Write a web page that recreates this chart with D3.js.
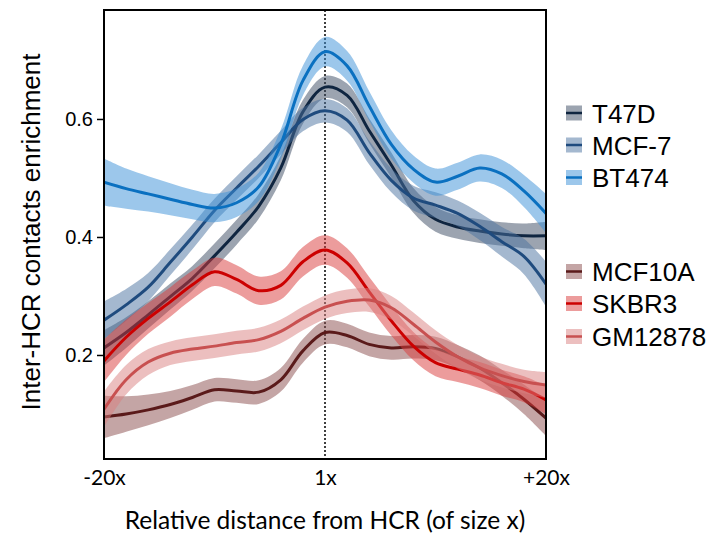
<!DOCTYPE html>
<html>
<head>
<meta charset="utf-8">
<script src="https://cdn.jsdelivr.net/npm/d3@7"></script>
<style>
	body { margin: 0; background: #fff; }
	svg { display: block; }
</style>
</head>
<body>
<svg></svg>
<script>
'use strict'

let width = 711,
	height = 538

// distance bins, in units of HCR size (0 = the HCR itself, labelled 1x)
let dist = [-20, -18, -16, -14, -12, -10, -8, -6, -4, -2, 0, 2, 4, 6, 8, 10, 12, 14, 16, 18, 20]
let xTicks = [-20, 0, 20]
let xTickLabels = ['-20x', '1x', '+20x']
let yTicks = [0.2, 0.4, 0.6]

let names = ['T47D', 'MCF-7', 'BT474', 'MCF10A', 'SKBR3', 'GM12878']

let t47d = [0.212, 0.238, 0.268, 0.299, 0.33, 0.368, 0.408, 0.452, 0.517, 0.612, 0.654, 0.64, 0.58, 0.522, 0.462, 0.43, 0.417, 0.41, 0.405, 0.402, 0.402]
let mcf7 = [0.259, 0.285, 0.315, 0.357, 0.4, 0.445, 0.483, 0.52, 0.56, 0.599, 0.614, 0.598, 0.543, 0.496, 0.466, 0.454, 0.44, 0.418, 0.392, 0.367, 0.32]
let bt474 = [0.493, 0.482, 0.473, 0.464, 0.455, 0.449, 0.458, 0.485, 0.557, 0.665, 0.714, 0.69, 0.622, 0.557, 0.515, 0.493, 0.503, 0.517, 0.507, 0.478, 0.44]
let mcf10a = [0.095, 0.1, 0.107, 0.116, 0.128, 0.141, 0.139, 0.137, 0.158, 0.207, 0.238, 0.233, 0.218, 0.212, 0.214, 0.211, 0.197, 0.178, 0.153, 0.125, 0.093]
let skbr3 = [0.19, 0.23, 0.262, 0.29, 0.319, 0.341, 0.328, 0.309, 0.318, 0.358, 0.378, 0.356, 0.307, 0.258, 0.215, 0.187, 0.176, 0.166, 0.153, 0.142, 0.124]
let gm12878 = [0.108, 0.158, 0.188, 0.203, 0.21, 0.215, 0.221, 0.226, 0.24, 0.262, 0.281, 0.291, 0.293, 0.28, 0.252, 0.222, 0.197, 0.178, 0.165, 0.155, 0.149]

// half-width of the confidence band
let seT47d = [0.03, 0.026, 0.023, 0.022, 0.021, 0.021, 0.021, 0.021, 0.021, 0.02, 0.019, 0.02, 0.021, 0.021, 0.021, 0.021, 0.02, 0.02, 0.02, 0.021, 0.024]
let seMcf7 = [0.032, 0.027, 0.024, 0.022, 0.021, 0.02, 0.02, 0.02, 0.02, 0.02, 0.02, 0.02, 0.02, 0.02, 0.021, 0.022, 0.022, 0.023, 0.025, 0.03, 0.038]
let seBt474 = [0.04, 0.034, 0.03, 0.027, 0.025, 0.024, 0.024, 0.024, 0.025, 0.025, 0.025, 0.025, 0.025, 0.024, 0.023, 0.023, 0.023, 0.023, 0.024, 0.027, 0.033]
let seMcf10a = [0.036, 0.03, 0.026, 0.023, 0.021, 0.02, 0.02, 0.02, 0.02, 0.02, 0.02, 0.02, 0.02, 0.02, 0.02, 0.02, 0.02, 0.021, 0.022, 0.025, 0.03]
let seSkbr3 = [0.036, 0.03, 0.026, 0.025, 0.024, 0.024, 0.024, 0.024, 0.024, 0.025, 0.025, 0.025, 0.025, 0.025, 0.024, 0.023, 0.022, 0.022, 0.022, 0.022, 0.024]
let seGm12878 = [0.03, 0.025, 0.022, 0.02, 0.02, 0.02, 0.02, 0.02, 0.02, 0.02, 0.02, 0.02, 0.02, 0.02, 0.02, 0.02, 0.02, 0.02, 0.02, 0.02, 0.022]

let lineColors = ['#0f2540', '#1f4b7e', '#0a70c0', '#5a1a1a', '#cc0000', '#c85050']
let bandColors = ['#3a4a62', '#4a72a0', '#3a8fd8', '#8a4c4c', '#d93a3a', '#d98080']

let series = [
	{ name: names[0], vals: t47d, se: seT47d },
	{ name: names[1], vals: mcf7, se: seMcf7 },
	{ name: names[2], vals: bt474, se: seBt474 },
	{ name: names[3], vals: mcf10a, se: seMcf10a },
	{ name: names[4], vals: skbr3, se: seSkbr3 },
	{ name: names[5], vals: gm12878, se: seGm12878 }
]

let svg = d3.select('svg')
	.attr('width', width)
	.attr('height', height)

let plotLeft = 104, plotRight = 546, plotTop = 10, plotBottom = 459

let x = d3.scaleLinear().domain([-20, 20]).range([plotLeft, plotRight])
let y = d3.scaleLinear().domain([0.0237, 0.7847]).range([plotBottom, plotTop])

svg.append('clipPath').attr('id', 'plotclip')
	.append('rect')
	.attr('x', plotLeft).attr('y', plotTop)
	.attr('width', plotRight - plotLeft).attr('height', plotBottom - plotTop)

let plot = svg.append('g').attr('clip-path', 'url(#plotclip)')

// dotted line at the HCR position
plot.append('line')
	.attr('x1', x(0)).attr('x2', x(0))
	.attr('y1', plotTop).attr('y2', plotBottom)
	.attr('stroke', '#000')
	.attr('stroke-width', 1.5)
	.attr('stroke-dasharray', '2,2')

let curve = d3.curveCatmullRom.alpha(0.5)

let area = d3.area()
	.x(function(d) { return x(d.d) })
	.y0(function(d) { return y(d.v - d.s) })
	.y1(function(d) { return y(d.v + d.s) })
	.curve(curve)

let line = d3.line()
	.x(function(d) { return x(d.d) })
	.y(function(d) { return y(d.v) })
	.curve(curve)

series.forEach(function(s, i) {
	let pts = dist.map(function(d, j) {
		return { d: d, v: s.vals[j], s: s.se[j] }
	})
	plot.append('path')
		.attr('d', area(pts))
		.attr('fill', bandColors[i])
		.attr('fill-opacity', 0.5)
	plot.append('path')
		.attr('d', line(pts))
		.attr('fill', 'none')
		.attr('stroke', lineColors[i])
		.attr('stroke-width', 3)
})

// frame
svg.append('rect')
	.attr('x', plotLeft).attr('y', plotTop)
	.attr('width', plotRight - plotLeft).attr('height', plotBottom - plotTop)
	.attr('fill', 'none')
	.attr('stroke', '#000')
	.attr('stroke-width', 2)

// y axis
let yAxis = d3.axisLeft(y)
	.tickValues(yTicks)
	.tickSize(7)
	.tickPadding(4)
	.tickFormat(d3.format('.1f'))

let gy = svg.append('g')
	.attr('transform', 'translate(' + plotLeft + ',0)')
	.call(yAxis)
gy.select('.domain').remove()
gy.selectAll('line').attr('stroke-width', 1.5)
gy.selectAll('text')
	.style('font-family', '"Liberation Sans", Arial, sans-serif')
	.style('font-size', '20px')
	.attr('fill', '#000')

// x axis labels only (no tick marks)
let xAxis = d3.axisBottom(x)
	.tickValues(xTicks)
	.tickSize(0)
	.tickPadding(11)
	.tickFormat(function(d, i) { return xTickLabels[i] })

let gx = svg.append('g')
	.attr('transform', 'translate(0,' + plotBottom + ')')
	.call(xAxis)
gx.select('.domain').remove()
gx.selectAll('text')
	.style('font-family', 'Lato, "Open Sans", sans-serif')
	.style('font-size', '21px')
	.attr('fill', '#000')

svg.append('text')
	.attr('x', (plotLeft + plotRight) / 2)
	.attr('y', 529)
	.attr('text-anchor', 'middle')
	.style('font-family', 'Lato, "Open Sans", sans-serif')
	.style('font-size', '24.5px')
	.text('Relative distance from HCR (of size x)')

svg.append('text')
	.attr('transform', 'translate(40,232) rotate(-90)')
	.attr('text-anchor', 'middle')
	.style('font-family', '"Liberation Sans", Arial, sans-serif')
	.style('font-size', '26px')
	.text('Inter-HCR contacts enrichment')

// legend
let legendY = [113, 145, 177.5, 271.5, 303.5, 336.5]

let legend = svg.append('g')
	.selectAll('g')
	.data(series)
	.enter().append('g')
	.attr('transform', function(d, i) { return 'translate(566,' + legendY[i] + ')' })

legend.append('rect')
	.attr('x', 0).attr('y', -7.5)
	.attr('width', 16).attr('height', 15)
	.attr('fill', function(d, i) { return bandColors[i] })
	.attr('fill-opacity', 0.5)

legend.append('line')
	.attr('x1', 0).attr('x2', 16)
	.attr('y1', 0).attr('y2', 0)
	.attr('stroke', function(d, i) { return lineColors[i] })
	.attr('stroke-width', 2.5)

legend.append('text')
	.attr('x', 26)
	.attr('y', 9.5)
	.style('font-family', '"Liberation Sans", Arial, sans-serif')
	.style('font-size', '26px')
	.text(function(d) { return d.name })
</script>
</body>
</html>
